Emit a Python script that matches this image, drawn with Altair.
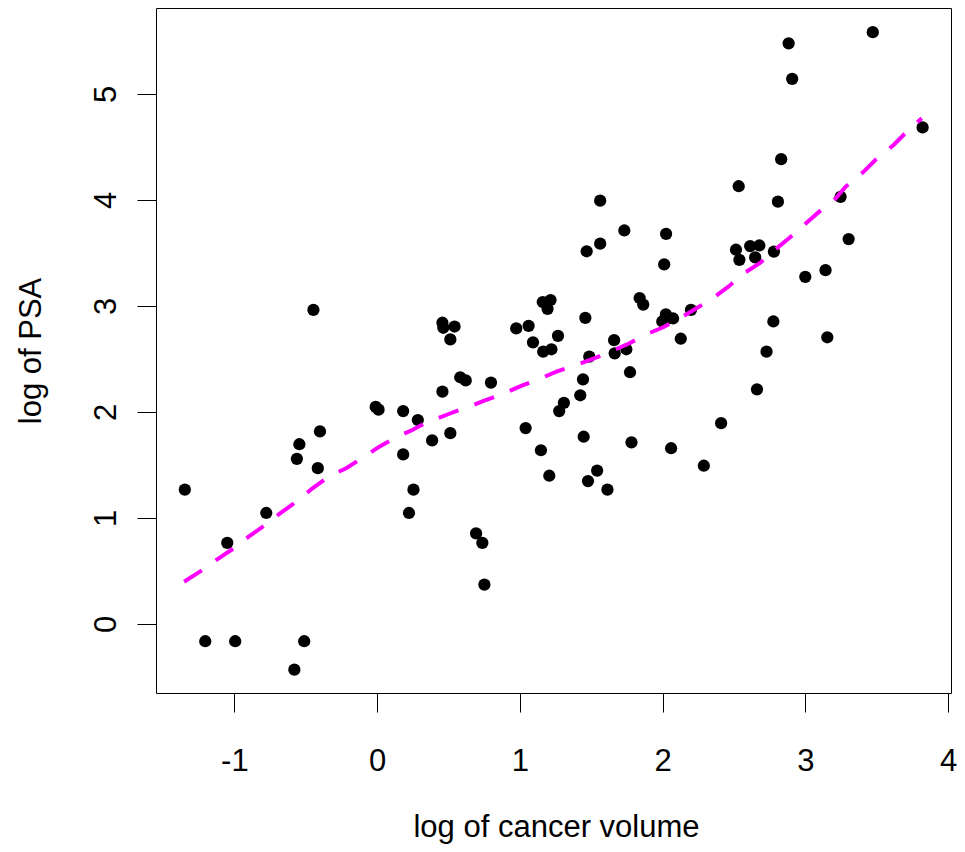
import altair as alt
import pandas as pd

# Prostate data: log cancer volume vs log PSA
lcavol = [-0.5798185, -0.9942523, -0.5108256, -1.2039728, 0.7514161, -1.0498221, 0.7371641,
          0.6931472, -0.7765288, 0.2231436, 0.2546422, -1.3470736, 1.6134299, 1.4770487,
          1.2059708, 1.5411591, -0.4155154, 2.2884862, -0.5621189, 0.1823216, 1.1474025,
          2.0592388, -0.5447272, 1.7817091, 0.3852624, 1.4469190, 0.5128236, -0.4004776,
          1.0402767, 2.4096442, 0.2851789, 0.1823216, 1.2753628, 0.0099503, -0.0100503,
          1.3083328, 1.4231083, 0.4574248, 2.6609586, 0.7975072, 0.6205765, 1.4422020,
          0.5822156, 1.7715568, 1.4861397, 1.6639261, 2.7278528, 1.1631508, 1.7457155,
          1.2208299, 1.0919233, 1.6601310, 0.5128236, 2.1270405, 3.1535904, 1.2669476,
          0.9745596, 0.4637340, 0.5423243, 1.0612565, 0.4574248, 1.9974177, 2.7757089,
          2.0347056, 2.0731719, 1.4586150, 2.0228712, 2.1983351, -0.4462871, 1.1939225,
          1.8640801, 1.1600209, 1.2149127, 1.8389611, 2.9992262, 3.1411305, 2.0108950,
          2.5376572, 2.6483002, 2.7794402, 1.4678743, 2.5136561, 2.6130067, 2.6775910,
          1.5623463, 3.3028493, 2.0241931, 1.7316555, 2.8075938, 1.5623463, 3.2464910,
          2.5329028, 2.8302678, 3.8210036, 2.9074474, 2.8825636, 3.4719665]

lpsa = [-0.4307829, -0.1625189, -0.1625189, -0.1625189, 0.3715636, 0.7654678, 0.7654678,
        0.8544153, 1.0473190, 1.0473190, 1.2669476, 1.2669476, 1.2669476, 1.3480731,
        1.3987169, 1.4469190, 1.4701758, 1.4929041, 1.5581446, 1.5993876, 1.6389967,
        1.6582281, 1.6956156, 1.7137979, 1.7316555, 1.7664417, 1.8000583, 1.8164521,
        1.8484548, 1.8946169, 1.9242487, 2.0082140, 2.0082140, 2.0215476, 2.0476928,
        2.0856721, 2.1575593, 2.1916535, 2.2137539, 2.2772673, 2.2975726, 2.3075726,
        2.3272777, 2.3749058, 2.5217206, 2.5533438, 2.5687881, 2.5687881, 2.5915164,
        2.5915164, 2.6567569, 2.6775910, 2.6844403, 2.6912431, 2.7047113, 2.7180005,
        2.7880929, 2.7942279, 2.8063861, 2.8124102, 2.8419982, 2.8535925, 2.8535925,
        2.8820035, 2.8820035, 2.8875901, 2.9204698, 2.9626924, 2.9626924, 2.9729753,
        3.0130809, 3.0373539, 3.0563569, 3.0750055, 3.2752562, 3.3375474, 3.3928291,
        3.4355988, 3.4578927, 3.5130369, 3.5160131, 3.5307626, 3.5652984, 3.5709402,
        3.5876769, 3.6309855, 3.6800909, 3.7123518, 3.9843437, 3.9936030, 4.0298060,
        4.1295508, 4.3851468, 4.6844434, 5.1431245, 5.4775090, 5.5829322]

# Smooth curve
smooth_x = [-1.352, -1.224, -1.120, -1.005, -0.900, -0.784, -0.673, -0.557, -0.453, -0.340,
            -0.217, -0.090, 0.015, 0.142, 0.246, 0.341, 0.515, 0.642, 0.746, 0.890,
            1.013, 1.147, 1.256, 1.406, 1.510, 1.661, 1.754, 1.892, 2.004, 2.129,
            2.217, 2.361, 2.460, 2.580, 2.680, 2.785, 2.889, 3.004, 3.097, 3.213,
            3.282, 3.403, 3.490, 3.618, 3.699, 3.815]
smooth_y = [0.399, 0.509, 0.610, 0.714, 0.824, 0.934, 1.050, 1.163, 1.280, 1.390,
            1.469, 1.578, 1.673, 1.767, 1.830, 1.899, 1.988, 2.050, 2.104, 2.176,
            2.248, 2.318, 2.380, 2.450, 2.500, 2.585, 2.639, 2.736, 2.799, 2.890,
            2.962, 3.082, 3.182, 3.318, 3.403, 3.528, 3.644, 3.780, 3.890, 4.016,
            4.126, 4.261, 4.377, 4.519, 4.629, 4.771]

x_ticks = [-1, 0, 1, 2, 3, 4]
y_ticks = [0, 1, 2, 3, 4, 5]

pts = pd.DataFrame({"lcavol": lcavol, "lpsa": lpsa})
sm = pd.DataFrame({"lcavol": smooth_x, "lpsa": smooth_y, "i": list(range(len(smooth_x)))})

FONT = "Liberation Sans"
xscale = alt.Scale(domain=[-1.549, 4.02], nice=False, zero=False)
yscale = alt.Scale(domain=[-0.651, 5.811], nice=False, zero=False)

xaxis = alt.Axis(
    title="log of cancer volume", values=x_ticks, grid=False, domain=False,
    ticks=True, tickSize=19, tickColor="black", tickWidth=1,
    labelFont=FONT, labelFontSize=31, labelColor="black", labelPadding=58,
    labelBaseline="alphabetic", labelAlign="center",
    labelExpr="datum.value + ''", labelFlush=False, labelOverlap=False,
    titleFont=FONT, titleFontSize=31, titleFontWeight="normal", titleColor="black",
    titleX=400, titleY=143, titleBaseline="alphabetic", titleAlign="center",
)
yaxis = alt.Axis(
    title="log of PSA", values=y_ticks, grid=False, domain=False,
    ticks=True, tickSize=19, tickColor="black", tickWidth=1,
    labelFont=FONT, labelFontSize=31, labelColor="black", labelPadding=22,
    labelAngle=270, labelAlign="center", labelBaseline="alphabetic",
    labelExpr="datum.value + ''", labelFlush=False, labelOverlap=False,
    titleFont=FONT, titleFontSize=31, titleFontWeight="normal", titleColor="black",
    titleAngle=270, titleX=-116, titleY=342.5, titleBaseline="alphabetic", titleAlign="center",
)

points = alt.Chart(pts).mark_circle(size=150, color="black", opacity=1).encode(
    x=alt.X("lcavol:Q", scale=xscale, axis=xaxis),
    y=alt.Y("lpsa:Q", scale=yscale, axis=yaxis),
)

line = alt.Chart(sm).mark_line(
    color="#FF00FF", strokeWidth=4, strokeDash=[21, 17], strokeCap="butt"
).encode(
    x=alt.X("lcavol:Q", scale=xscale),
    y=alt.Y("lpsa:Q", scale=yscale),
    order="i:Q",
)

chart = alt.layer(points, line).properties(
    width=795, height=685,
    autosize=alt.AutoSizeParams(type="none"),
    padding={"left": 148, "top": 0, "right": 6, "bottom": 151},
    background="white",
).configure_view(stroke="black", strokeWidth=1)

chart.save("out.html", embed_options={"renderer": "svg", "actions": False})
